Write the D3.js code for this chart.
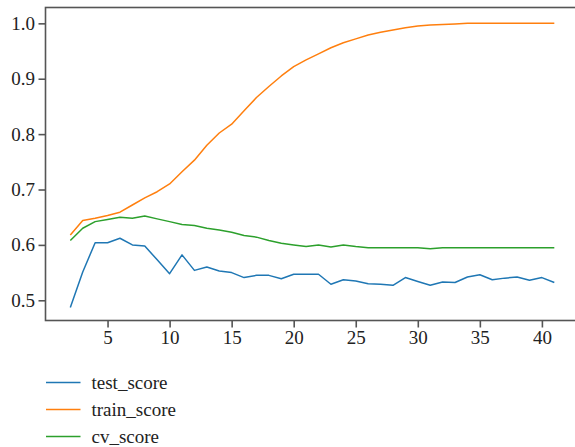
<!DOCTYPE html>
<html>
<head>
<meta charset="utf-8">
<script src="https://cdn.jsdelivr.net/npm/d3@7"></script>
</head>
<body style="margin:0">
<svg id="fig" width="575" height="447"></svg>
<script>
// ---- data ----
const nComponents = d3.range(2, 42); // 2..41
const testScore = [0.487, 0.551, 0.604, 0.604, 0.612, 0.600, 0.598, 0.573, 0.548, 0.582,
                   0.554, 0.560, 0.553, 0.550, 0.541, 0.545, 0.545, 0.539, 0.547, 0.547,
                   0.547, 0.529, 0.537, 0.535, 0.530, 0.529, 0.527, 0.541, 0.534, 0.527,
                   0.533, 0.532, 0.542, 0.546, 0.537, 0.540, 0.542, 0.536, 0.541, 0.532];
const trainScore = [0.618, 0.644, 0.648, 0.653, 0.659, 0.672, 0.685, 0.696, 0.710, 0.732,
                    0.753, 0.780, 0.802, 0.818, 0.842, 0.866, 0.886, 0.905, 0.922, 0.934,
                    0.945, 0.956, 0.965, 0.972, 0.979, 0.984, 0.988, 0.992, 0.995, 0.997,
                    0.998, 0.999, 1.000, 1.000, 1.000, 1.000, 1.000, 1.000, 1.000, 1.000];
const cvScore = [0.608, 0.630, 0.642, 0.646, 0.650, 0.648, 0.652, 0.647, 0.642, 0.637,
                 0.635, 0.630, 0.627, 0.623, 0.617, 0.614, 0.608, 0.603, 0.600, 0.597,
                 0.600, 0.596, 0.600, 0.597, 0.595, 0.595, 0.595, 0.595, 0.595, 0.593,
                 0.595, 0.595, 0.595, 0.595, 0.595, 0.595, 0.595, 0.595, 0.595, 0.595];
const seriesNames = ["test_score", "train_score", "cv_score"];
const seriesColors = ["#1f77b4", "#ff7f0e", "#2ca02c"];
const xTicks = [5, 10, 15, 20, 25, 30, 35, 40];
const yTicks = [0.5, 0.6, 0.7, 0.8, 0.9, 1.0];

const series = [testScore, trainScore, cvScore];

// ---- layout ----
const FONT = '"Liberation Serif"';
const FONT_SIZE = "19px";
const TEXT_COLOR = "#222";
const svg = d3.select("#fig");
const mLeft = 45.5, mTop = 7.5, mBottom = 320.5;
const x = d3.scaleLinear().domain([0, 44]).range([mLeft, mLeft + 44 * 12.41]);
const y = d3.scaleLinear().domain([0.4635, 1.0286]).range([mBottom, mTop]);
const mRight = x(44);

// lines
const line = d3.line().x((d, i) => x(nComponents[i])).y(d => y(d));
series.forEach((s, k) => {
  svg.append("path")
    .datum(s)
    .attr("fill", "none")
    .attr("stroke", seriesColors[k])
    .attr("stroke-width", 1.5)
    .attr("stroke-linejoin", "round")
    .attr("d", line);
});

// axes
const axisColor = "#555";
const xAxis = svg.append("g").attr("transform", `translate(0,${mBottom})`)
  .call(d3.axisBottom(x).tickValues(xTicks).tickSize(7).tickPadding(3).tickFormat(d3.format("d")));
const yAxis = svg.append("g").attr("transform", `translate(${mLeft},0)`)
  .call(d3.axisLeft(y).tickValues(yTicks).tickSize(7).tickPadding(3.5).tickFormat(d3.format(".1f")));
[xAxis, yAxis].forEach(g => {
  g.style("font-family", FONT, "important").style("font-size", FONT_SIZE, "important");
  g.select(".domain").remove();
  g.selectAll(".tick line").attr("stroke", axisColor).attr("stroke-width", 1.6);
  g.selectAll(".tick text")
    .style("font-family", FONT, "important").style("font-size", FONT_SIZE, "important")
    .attr("fill", TEXT_COLOR);
});
// spines
svg.append("rect")
  .attr("x", mLeft).attr("y", mTop)
  .attr("width", mRight - mLeft).attr("height", mBottom - mTop)
  .attr("fill", "none").attr("stroke", axisColor).attr("stroke-width", 1.6);

// legend
seriesNames.forEach((name, k) => {
  const ly = 382.5 + k * 27;
  svg.append("line")
    .attr("x1", 46).attr("x2", 80.5).attr("y1", ly).attr("y2", ly)
    .attr("stroke", seriesColors[k]).attr("stroke-width", 1.5);
  svg.append("text")
    .attr("x", 91.5).attr("y", ly).attr("dy", "0.33em")
    .style("font-family", FONT, "important").style("font-size", FONT_SIZE, "important")
    .attr("fill", TEXT_COLOR)
    .text(name);
});
</script>
</body>
</html>
